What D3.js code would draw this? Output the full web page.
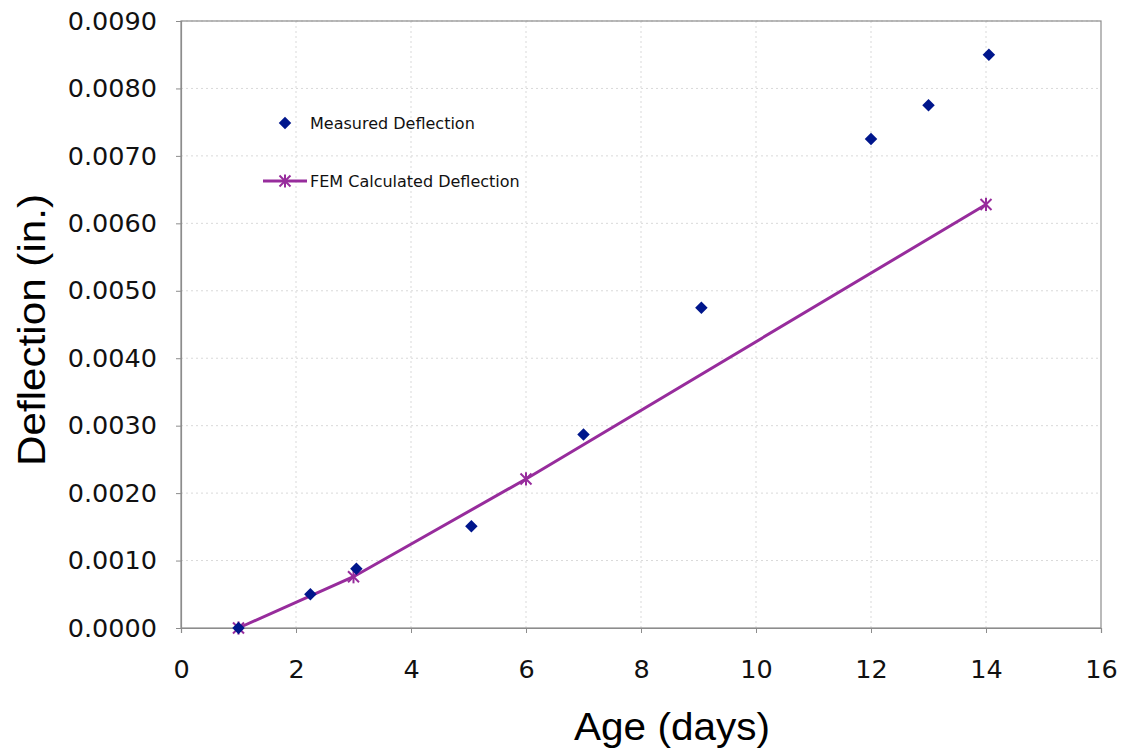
<!DOCTYPE html>
<html>
<head>
<meta charset="utf-8">
<script src="https://cdn.jsdelivr.net/npm/d3@7/dist/d3.min.js"></script>
<style>
  html, body { margin: 0; padding: 0; background: #fff; }
  svg { display: block; }
</style>
</head>
<body>
<svg id="chart" width="1123" height="749"></svg>
<script>
// ---- Data ----
const measuredAge = [1, 2.25, 3.05, 5.05, 7.0, 9.05, 12, 13, 14.05];
const measuredDeflection = [0.0000, 0.00050, 0.00088, 0.00151, 0.00287, 0.00475, 0.00725, 0.00775, 0.00850];
const femAge = [1, 3, 6, 14];
const femDeflection = [0.0000, 0.00076, 0.00221, 0.00628];
const xTicks = [0, 2, 4, 6, 8, 10, 12, 14, 16];
const yTicks = [0, 0.001, 0.002, 0.003, 0.004, 0.005, 0.006, 0.007, 0.008, 0.009];
const seriesNames = ["Measured Deflection", "FEM Calculated Deflection"];
const xTitle = "Age (days)";
const yTitle = "Deflection (in.)";

// ---- Layout ----
const svg = d3.select("#chart");
const mLeft = 181, mRight = 1101, mTop = 21, mBottom = 628;
const navy = "#00168c", purple = "#972c9c";

const x = d3.scaleLinear().domain([0, 16]).range([mLeft, mRight]);
const y = d3.scaleLinear().domain([0, 0.009]).range([mBottom, mTop]);

// grid
const grid = svg.append("g").attr("stroke", "#d9d9d9").attr("stroke-width", 1).attr("stroke-dasharray", "2,3");
grid.selectAll("line.h").data(yTicks.slice(1)).enter().append("line")
  .attr("x1", mLeft).attr("x2", mRight).attr("y1", d => y(d)).attr("y2", d => y(d));
grid.selectAll("line.v").data(xTicks.slice(1, -1)).enter().append("line")
  .attr("y1", mTop).attr("y2", mBottom).attr("x1", d => x(d)).attr("x2", d => x(d));

// frame
svg.append("rect").attr("x", mLeft).attr("y", mTop).attr("width", mRight - mLeft).attr("height", mBottom - mTop)
  .attr("fill", "none").attr("stroke", "#8c8c8c").attr("stroke-width", 1.2);

// axes
const yAxis = d3.axisLeft(y).tickValues(yTicks).tickFormat(d3.format(".4f")).tickSize(5).tickPadding(19);
const xAxis = d3.axisBottom(x).tickValues(xTicks).tickFormat(d3.format("d")).tickSize(5).tickPadding(27);

const gy = svg.append("g").attr("transform", `translate(${mLeft},0)`).call(yAxis);
const gx = svg.append("g").attr("transform", `translate(0,${mBottom})`).call(xAxis);
[gx, gy].forEach(g => {
  g.select(".domain").attr("stroke", "#8c8c8c").attr("stroke-width", 1.2);
  g.selectAll(".tick line").attr("stroke", "#8c8c8c");
  g.selectAll(".tick text").attr("font-family", "DejaVu Sans, Verdana, sans-serif")
    .attr("font-size", 25.5).attr("fill", "#111");
});

// FEM line
const line = d3.line().x(d => x(d[0])).y(d => y(d[1]));
const femData = femAge.map((a, i) => [a, femDeflection[i]]);
svg.append("path").datum(femData).attr("d", line)
  .attr("fill", "none").attr("stroke", purple).attr("stroke-width", 3);

function star(g, cx, cy, r) {
  const s = g.append("g").attr("stroke", purple).attr("stroke-width", 2);
  s.append("line").attr("x1", cx - r).attr("x2", cx + r).attr("y1", cy - r).attr("y2", cy + r);
  s.append("line").attr("x1", cx - r).attr("x2", cx + r).attr("y1", cy + r).attr("y2", cy - r);
  s.append("line").attr("x1", cx).attr("x2", cx).attr("y1", cy - r * 1.2).attr("y2", cy + r * 1.2);
}
femData.forEach(d => star(svg, x(d[0]), y(d[1]), 5.5));

// Measured diamonds
const diamond = d3.symbol().type(d3.symbolDiamond2).size(100);
svg.append("g").selectAll("path").data(measuredAge.map((a, i) => [a, measuredDeflection[i]]))
  .enter().append("path")
  .attr("d", diamond)
  .attr("transform", d => `translate(${x(d[0])},${y(d[1])})`)
  .attr("fill", navy);

// Legend
svg.append("path").attr("d", diamond).attr("transform", "translate(285,123)").attr("fill", navy);
svg.append("text").attr("x", 310).attr("y", 123).attr("dy", "0.36em")
  .attr("font-family", "DejaVu Sans, Verdana, sans-serif").attr("font-size", 16).attr("fill", "#111")
  .text(seriesNames[0]);
svg.append("line").attr("x1", 263).attr("x2", 307).attr("y1", 181).attr("y2", 181)
  .attr("stroke", purple).attr("stroke-width", 3);
star(svg, 285, 181, 5.5);
svg.append("text").attr("x", 310).attr("y", 181).attr("dy", "0.36em")
  .attr("font-family", "DejaVu Sans, Verdana, sans-serif").attr("font-size", 16).attr("fill", "#111")
  .text(seriesNames[1]);

// Axis titles
svg.append("text").attr("x", 672).attr("y", 740).attr("text-anchor", "middle")
  .attr("font-family", "Liberation Sans, Arial, sans-serif").attr("font-size", 38).attr("fill", "#000")
  .attr("textLength", 196).attr("lengthAdjust", "spacingAndGlyphs")
  .text(xTitle);
svg.append("text").attr("transform", "translate(45,330) rotate(-90)").attr("text-anchor", "middle")
  .attr("font-family", "Liberation Sans, Arial, sans-serif").attr("font-size", 38).attr("fill", "#000")
  .attr("textLength", 272).attr("lengthAdjust", "spacingAndGlyphs")
  .text(yTitle);
</script>
</body>
</html>
